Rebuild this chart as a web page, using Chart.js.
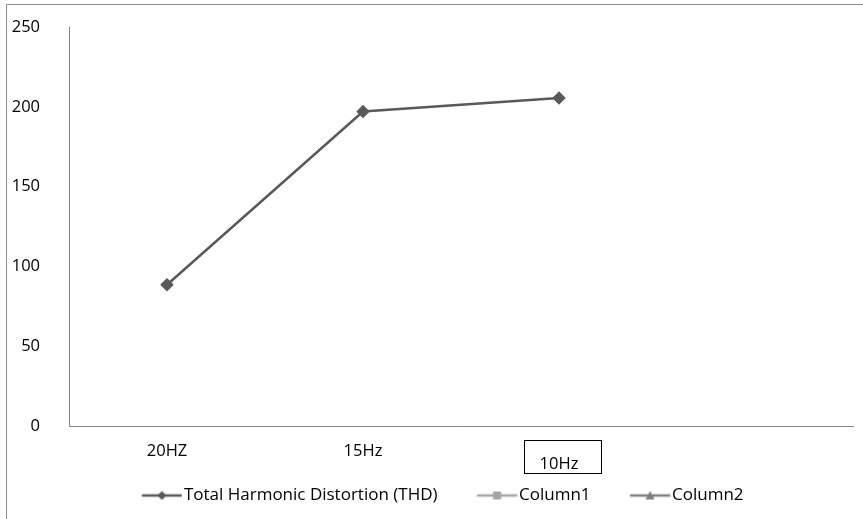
<!DOCTYPE html>
<html>
<head>
<meta charset="utf-8">
<script src="https://cdn.jsdelivr.net/npm/chart.js@4.4.1/dist/chart.umd.min.js"></script>
<style>
  html, body { margin: 0; padding: 0; background: #fff; }
  #wrap { width: 863px; height: 519px; position: relative; }
</style>
</head>
<body>
<div id="wrap"><canvas id="chart" width="863" height="519"></canvas></div>
<script>
// chart data
const categories = ['20HZ', '15Hz', ['', '10Hz'], ''];
const thdValues = [88.5, 197, 205.5, null];
const column1Values = [null, null, null, null];
const column2Values = [null, null, null, null];
const yTicks = [0, 50, 100, 150, 200, 250];

const FONT = '"Open Sans", Lato, sans-serif';

// legend icon: blank space on the left, then a short line with a marker
function legendIcon(color, style) {
  const c = document.createElement('canvas');
  c.width = 80; c.height = 12;
  const g = c.getContext('2d');
  g.strokeStyle = color;
  g.lineWidth = 2.5;
  g.beginPath(); g.moveTo(39.5, 6); g.lineTo(79.5, 6); g.stroke();
  g.fillStyle = color;
  g.beginPath();
  const m = 59.5;
  if (style === 'rectRot') {
    g.moveTo(m, 1.5); g.lineTo(m + 4.5, 6); g.lineTo(m, 10.5); g.lineTo(m - 4.5, 6);
  } else if (style === 'rect') {
    g.rect(m - 4, 2, 8, 8);
  } else {
    g.moveTo(m, 1.5); g.lineTo(m + 4.5, 10); g.lineTo(m - 4.5, 10);
  }
  g.closePath(); g.fill();
  return c;
}

const frame = {
  id: 'frame',
  beforeDraw(chart) {
    const ctx = chart.ctx;
    ctx.save();
    ctx.strokeStyle = '#8c8c8c';
    ctx.lineWidth = 1;
    ctx.beginPath();
    ctx.moveTo(863, 4.5); ctx.lineTo(6.5, 4.5); ctx.lineTo(6.5, 519);
    ctx.stroke();
    ctx.restore();
  },
  afterDraw(chart) {
    // box around the third category label
    const x = chart.scales.x.getPixelForTick(2);
    const ctx = chart.ctx;
    ctx.save();
    ctx.strokeStyle = '#000';
    ctx.lineWidth = 1;
    ctx.strokeRect(Math.round(x - 35) + 0.5, 440.5, 77, 33);
    ctx.restore();
  }
};

const datasetStyles = [
  { color: '#595959', style: 'rectRot' },
  { color: '#a5a5a5', style: 'rect' },
  { color: '#7f7f7f', style: 'triangle' }
];

new Chart(document.getElementById('chart'), {
  type: 'line',
  data: {
    labels: categories,
    datasets: [
      {
        label: 'Total Harmonic Distortion (THD)',
        data: thdValues,
        borderColor: '#595959',
        backgroundColor: '#595959',
        borderWidth: 2.5,
        pointStyle: 'rectRot',
        pointRadius: 5,
        pointHoverRadius: 5,
        tension: 0
      },
      {
        label: 'Column1',
        data: column1Values,
        borderColor: '#a5a5a5',
        backgroundColor: '#a5a5a5',
        pointStyle: 'rect'
      },
      {
        label: 'Column2',
        data: column2Values,
        borderColor: '#7f7f7f',
        backgroundColor: '#7f7f7f',
        pointStyle: 'triangle'
      }
    ]
  },
  options: {
    responsive: false,
    animation: false,
    layout: { padding: { top: 27, right: 10, left: 0, bottom: 5 } },
    scales: {
      x: {
        offset: true,
        grid: { display: false },
        border: { display: true, color: '#868686', width: 1 },
        ticks: {
          color: '#000',
          font: { family: FONT, size: 16.5, lineHeight: '13px' },
          padding: 11,
          maxRotation: 0,
          autoSkip: false
        },
        afterFit(scale) { scale.height = 54; }
      },
      y: {
        min: 0,
        max: 250,
        afterBuildTicks(scale) { scale.ticks = yTicks.map(v => ({ value: v })); },
        grid: { display: false },
        border: { display: true, color: '#868686', width: 1 },
        ticks: {
          color: '#000',
          font: { family: FONT, size: 16.5 },
          padding: 21
        },
        afterFit(scale) {
          scale.width = 69;
          scale.paddingTop = 0;
          scale.paddingBottom = 0;
        }
      }
    },
    plugins: {
      tooltip: { enabled: false },
      legend: {
        position: 'bottom',
        labels: {
          usePointStyle: true,
          pointStyleWidth: 66,
          boxHeight: 12,
          padding: 7,
          color: '#000',
          font: { family: FONT, size: 17 },
          generateLabels(chart) {
            return chart.data.datasets.map((ds, i) => ({
              text: ds.label,
              datasetIndex: i,
              pointStyle: legendIcon(datasetStyles[i].color, datasetStyles[i].style),
              fillStyle: datasetStyles[i].color,
              strokeStyle: datasetStyles[i].color,
              lineWidth: 0,
              hidden: false,
              fontColor: '#000'
            }));
          }
        }
      }
    }
  },
  plugins: [frame]
});
</script>
</body>
</html>
